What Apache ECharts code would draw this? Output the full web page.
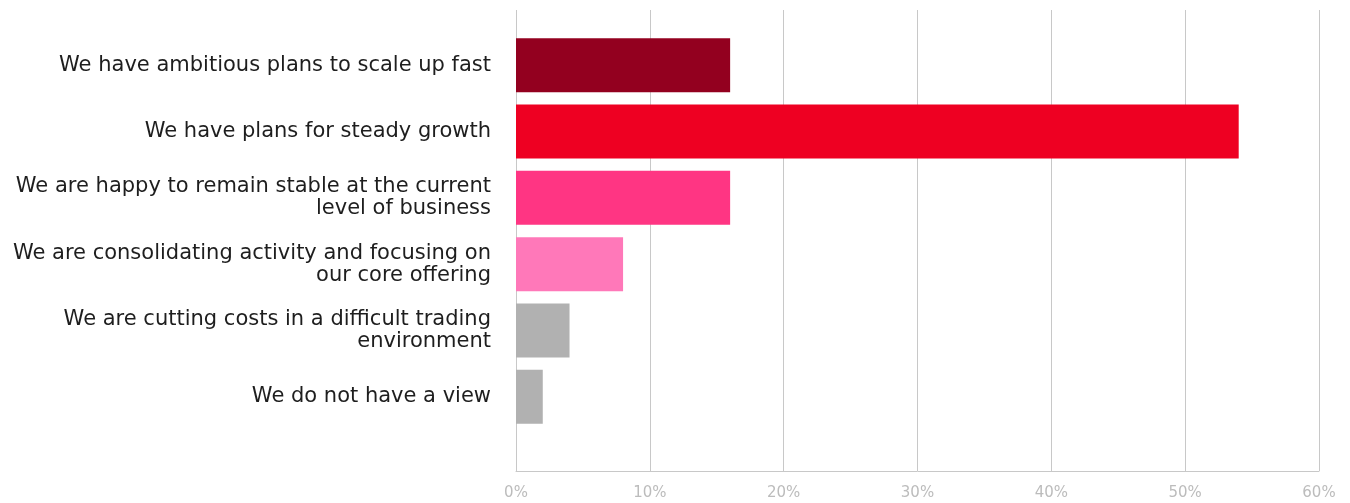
<!DOCTYPE html>
<html>
<head>
<meta charset="utf-8">
<script src="https://cdn.jsdelivr.net/npm/echarts@6/dist/echarts.min.js"></script>
<style>
  html, body { margin: 0; padding: 0; background: #fff; }
  #chart { width: 1350px; height: 503px; }
</style>
</head>
<body>
<div id="chart"></div>
<script>
// Growth outlook responses (share of respondents, %)
const categories = [
  'We have ambitious plans to scale up fast',
  'We have plans for steady growth',
  'We are happy to remain stable at the current\nlevel of business',
  'We are consolidating activity and focusing on\nour core offering',
  'We are cutting costs in a difficult trading\nenvironment',
  'We do not have a view'
];
const values = [16, 54, 16, 8, 4, 2];

const palette = ['#93001F', '#EE0022', '#FF3583', '#FF78B9', '#B1B1B1', '#B1B1B1'];

const chart = echarts.init(document.getElementById('chart'));
const fontFamily = '"DejaVu Sans", "Noto Sans", sans-serif';

chart.setOption({
  animation: false,
  grid: [
    // frame grid: vertical grid lines and percentage labels
    { left: 516, right: 31, top: 10, bottom: 32, containLabel: false },
    // bar grid
    { left: 516, right: 31, top: 32, height: 398, containLabel: false }
  ],
  xAxis: [
    {
      gridIndex: 0, type: 'value', min: 0, max: 60, interval: 10,
      axisLine: { show: true, lineStyle: { color: '#c8c8c8', width: 1 } },
      axisTick: { show: false },
      splitLine: { show: true, lineStyle: { color: '#c8c8c8', width: 1 } },
      axisLabel: {
        color: '#bcbcbc', fontSize: 15, fontFamily: fontFamily, margin: 15,
        formatter: v => v + '%'
      }
    },
    {
      gridIndex: 1, type: 'value', min: 0, max: 60, interval: 10, show: false
    }
  ],
  yAxis: [
    { gridIndex: 0, type: 'value', show: false },
    {
      gridIndex: 1, type: 'category', data: categories, inverse: true,
      axisLine: { show: false }, axisTick: { show: false },
      axisLabel: {
        color: '#1e1e1e', fontSize: 21, fontFamily: fontFamily,
        margin: 25, lineHeight: 22, align: 'right'
      }
    }
  ],
  series: [{
    type: 'bar',
    xAxisIndex: 1, yAxisIndex: 1,
    barWidth: 54,
    data: values.map((v, i) => ({ value: v, itemStyle: { color: palette[i] } }))
  }]
});
</script>
</body>
</html>
